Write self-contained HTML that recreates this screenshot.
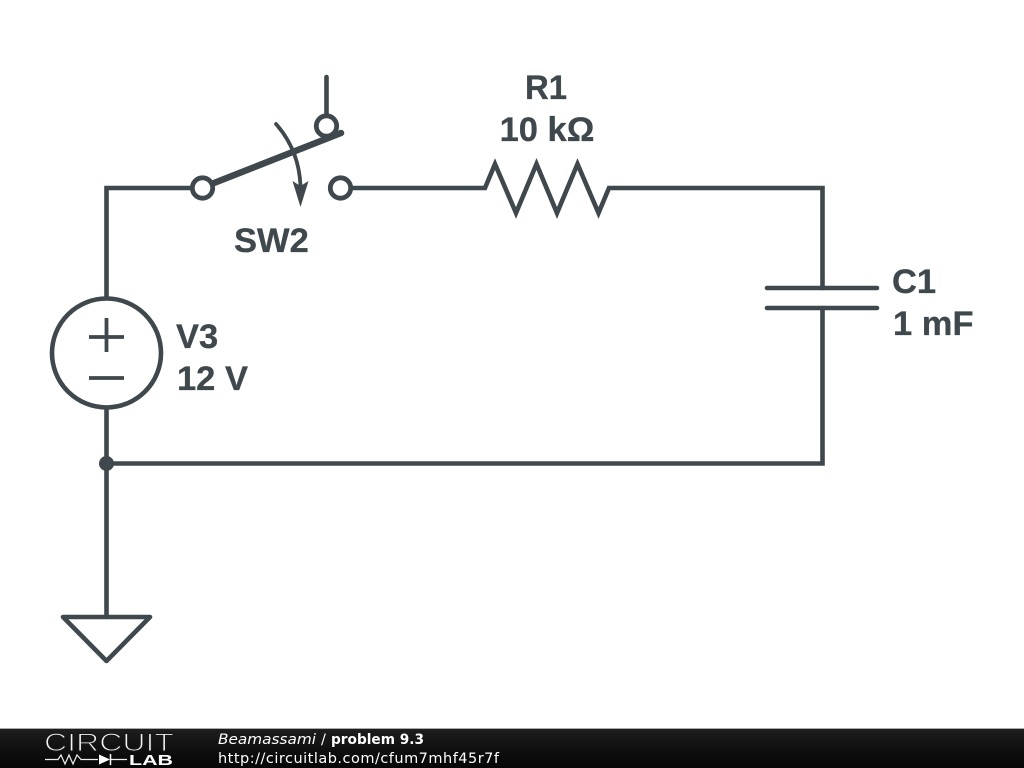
<!DOCTYPE html>
<html><head><meta charset="utf-8"><style>
html,body{margin:0;padding:0;background:#fff;width:1024px;height:768px;overflow:hidden}
svg{display:block}
.l{font-family:"Liberation Sans",sans-serif;font-weight:700;font-size:34.5px;fill:#3f484d;stroke:#3f484d;stroke-width:.3}
.f{font-family:"DejaVu Sans",sans-serif;font-size:14.5px;fill:#fff}
</style></head><body>
<svg width="1024" height="768" viewBox="0 0 1024 768" xmlns="http://www.w3.org/2000/svg">
<defs><linearGradient id="g" x1="0" y1="0" x2="0" y2="1"><stop offset="0" stop-color="#1e1e1e"/><stop offset=".5" stop-color="#101010"/><stop offset="1" stop-color="#060606"/></linearGradient></defs>
<rect width="1024" height="768" fill="#fff"/>
<g fill="none" stroke="#3f484d" stroke-width="4.600">
<path d="M106.500 298V188H190.500M352.500 188H485L495 164L516 213L536.500 164L557 213L577.500 164L598.500 213L609 188H822.500V288M822.500 308V463.500H106.500M106.500 409V617M326.500 77V114" stroke-linecap="round"/>
<circle cx="202.500" cy="188" r="10.200" stroke-width="4.800"/>
<circle cx="340.500" cy="188" r="10.200" stroke-width="4.800"/>
<circle cx="326.500" cy="126" r="10.200" stroke-width="4.800"/>
<circle cx="106.500" cy="353" r="54.500"/>
<path d="M89 337H124M106.500 318V352M89 378H124" stroke-width="3.800"/>
<path d="M767 288H877M767 308H877" stroke-linecap="round"/>
<path d="M63 617H150L106.500 661Z" stroke-linejoin="round"/>
<path d="M276 124Q299 150 300.500 186" stroke-width="3.800" stroke-linecap="round"/>
<path d="M214 183L341 133" stroke-width="6.500" stroke-linecap="round"/>
</g>
<path d="M292.500 181L300.500 186L308.500 181L300.500 207Z" fill="#3f484d"/>
<circle cx="106.500" cy="463.500" r="7.500" fill="#3f484d"/>
<text class="l" x="546" y="99" text-anchor="middle" textLength="42" lengthAdjust="spacingAndGlyphs">R1</text>
<text class="l" x="547" y="141" text-anchor="middle">10 kΩ</text>
<text class="l" x="234" y="252">SW2</text>
<text class="l" x="176" y="348">V3</text>
<text class="l" x="177" y="390">12 V</text>
<text class="l" x="892" y="293">C1</text>
<text class="l" x="893" y="335">1 mF</text>
<rect x="0" y="729" width="1024" height="39" fill="url(#g)"/>
<rect x="0" y="728" width="1024" height="1" fill="#aaa"/>
<text x="44" y="751" font-family="Liberation Sans,sans-serif" font-size="25" fill="#f4f4f4" stroke="#171717" stroke-width="1.100" textLength="130" lengthAdjust="spacingAndGlyphs">CIRCUIT</text>
<path d="M45 759.500H58L61 755L65 764L69 755L73 764L77 755L81 759.500H98M110 759.500H127" fill="none" stroke="#eee" stroke-width="1.200"/>
<path d="M99 754.500V764.500L110 759.500Z" fill="#fff"/><path d="M110.500 754V765" stroke="#fff" stroke-width="1.500"/>
<text x="129" y="765" font-family="Liberation Sans,sans-serif" font-weight="700" font-size="15" fill="#fff" textLength="44" lengthAdjust="spacingAndGlyphs">LAB</text>
<text class="f" x="218" y="744" font-style="italic" textLength="98" lengthAdjust="spacingAndGlyphs">Beamassami</text>
<text class="f" x="321" y="744">/</text>
<text class="f" x="331" y="744" font-weight="700" textLength="93" lengthAdjust="spacingAndGlyphs">problem 9.3</text>
<text class="f" x="218" y="763" textLength="281">http://circuitlab.com/cfum7mhf45r7f</text>
</svg>
</body></html>
